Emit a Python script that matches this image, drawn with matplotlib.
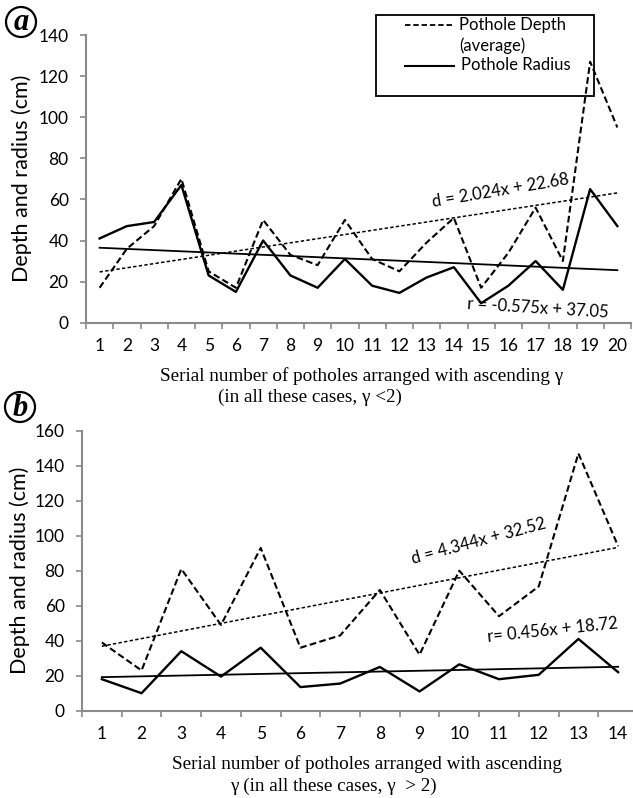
import numpy as np
import matplotlib
matplotlib.use("Agg")
import matplotlib.pyplot as plt
from matplotlib.lines import Line2D
from matplotlib.patches import Rectangle, Ellipse

# panel a: potholes with gamma < 2
pos_a = list(range(1, 21))
depth_a = [17, 36, 47, 70, 25, 17, 50, 33, 28, 50, 31, 25, 39, 51, 17, 34, 56, 30, 127, 95]
radius_a = [41, 47, 49, 67, 23, 15, 40, 23, 17, 31, 18, 14.5, 22, 27, 9.5, 18, 30, 16, 65, 47]
trend_d_a = (2.024, 22.68)
trend_r_a = (-0.575, 37.05)
yticks_a = [0, 20, 40, 60, 80, 100, 120, 140]

# panel b: potholes with gamma > 2
pos_b = list(range(1, 15))
depth_b = [39, 23, 81, 49, 93, 36, 43, 69, 32, 80, 54, 71, 147, 94]
radius_b = [18, 10, 34, 19.5, 36, 13.5, 15.5, 25, 11, 26.5, 18, 20.5, 41, 22]
trend_d_b = (4.344, 32.52)
trend_r_b = (0.456, 18.72)
yticks_b = [0, 20, 40, 60, 80, 100, 120, 140, 160]

W, H = 633, 798
SANS = ["Lato", "DejaVu Sans"]
SERIF = ["Liberation Serif", "DejaVu Serif"]
GREY = "#8a8a8a"

fig = plt.figure(figsize=(W / 100, H / 100), dpi=100)


def px(x, y):
    # pixel position (from top-left) -> figure fraction
    return x / W, 1 - y / H


def setup_axes(left, top, right, bottom, pos, depth, radius, td, tr, yticks):
    x0, y1 = px(left, top)
    x1, y0 = px(right, bottom)
    ax = fig.add_axes([x0, y0, x1 - x0, y1 - y0])
    ax.plot(pos, depth, color="black", lw=1.5, dashes=(3.2, 1.6))
    ax.plot(pos, radius, color="black", lw=1.7)
    xs = np.array([pos[0], pos[-1]])
    ax.plot(xs, td[0] * xs + td[1], color="black", lw=1.1, dashes=(2.2, 1.5))
    ax.plot(xs, tr[0] * xs + tr[1], color="black", lw=1.3)

    ax.set_xlim(0.5, len(pos) + 0.5)
    ax.set_ylim(yticks[0], yticks[-1])
    ax.set_yticks(yticks)
    ax.set_xticks(pos)
    ax.set_xticks(np.arange(0.5, len(pos) + 1), minor=True)
    ax.tick_params(axis="x", which="major", length=0, pad=11, labelsize=12.5)
    ax.tick_params(axis="x", which="minor", length=4, width=1.2, color=GREY)
    ax.tick_params(axis="y", length=4.5, width=1.2, color=GREY, pad=8, labelsize=12.5)
    for lab in ax.get_xticklabels() + ax.get_yticklabels():
        lab.set_fontfamily(SANS)
    for s in ["top", "right"]:
        ax.spines[s].set_visible(False)
    for s in ["left", "bottom"]:
        ax.spines[s].set_color(GREY)
        ax.spines[s].set_linewidth(1.5)
    ax.patch.set_visible(False)
    return ax


ax_a = setup_axes(86, 35, 631, 322.7, pos_a, depth_a, radius_a, trend_d_a, trend_r_a, yticks_a)
ax_b = setup_axes(82, 430.7, 638, 710.7, pos_b, depth_b, radius_b, trend_d_b, trend_r_b, yticks_b)

# trendline equations
ax_a.text(15.7, 64.5, "d = 2.024x + 22.68", rotation=9.5, rotation_mode="anchor",
          ha="center", va="center", fontsize=12, family=SANS)
ax_a.text(17.1, 7.0, "r = -0.575x + 37.05", rotation=-3.5, rotation_mode="anchor",
          ha="center", va="center", fontsize=12, family=SANS)
ax_b.text(10.5, 97, "d = 4.344x + 32.52", rotation=15, rotation_mode="anchor",
          ha="center", va="center", fontsize=12, family=SANS)
ax_b.text(12.35, 46, "r= 0.456x + 18.72", rotation=6, rotation_mode="anchor",
          ha="center", va="center", fontsize=12, family=SANS)

# y labels
fig.text(*px(22, 178), "Depth and radius (cm)", rotation=90, ha="center", va="center",
         fontsize=15.5, family=SANS)
fig.text(*px(20, 570), "Depth and radius (cm)", rotation=90, ha="center", va="center",
         fontsize=15.5, family=SANS)

# x labels (two lines each)
fig.text(*px(362, 376), "Serial number of potholes arranged with ascending \u03b3",
         ha="center", va="center", fontsize=13.8, family=SERIF)
fig.text(*px(310, 397), "(in all these cases, \u03b3 <2)",
         ha="center", va="center", fontsize=13.8, family=SERIF)
fig.text(*px(367, 764), "Serial number of potholes arranged with ascending",
         ha="center", va="center", fontsize=13.8, family=SERIF)
fig.text(*px(333, 786), "\u03b3 (in all these cases, \u03b3  > 2)",
         ha="center", va="center", fontsize=13.8, family=SERIF)

# legend box (panel a)
lx, ly = px(376, 96)
fig.add_artist(Rectangle((lx, ly), 218 / W, 81 / H, transform=fig.transFigure,
                         fill=False, ec="black", lw=1.3))
fig.add_artist(Line2D([405 / W, 454 / W], [1 - 25 / H] * 2, transform=fig.transFigure,
                      color="black", lw=1.3, dashes=(3, 1.6)))
fig.add_artist(Line2D([405 / W, 454 / W], [1 - 66 / H] * 2, transform=fig.transFigure,
                      color="black", lw=1.5))
fig.text(*px(459, 25), "Pothole Depth", ha="left", va="center", fontsize=12, family=SANS)
fig.text(*px(459, 46), "(average)", ha="left", va="center", fontsize=12, family=SANS)
fig.text(*px(461, 65), "Pothole Radius", ha="left", va="center", fontsize=12, family=SANS)

# panel letters in circles
for letter, (cx, cy) in [("a", (21, 22)), ("b", (20, 407))]:
    fx, fy = px(cx, cy)
    fig.add_artist(Ellipse((fx, fy), 30 / W, 30 / H, transform=fig.transFigure,
                           fill=False, ec="black", lw=1.6))
    fig.text(fx, fy - 1 / H, letter, ha="center", va="center", fontsize=22,
             fontweight="bold", fontstyle="italic", family=SERIF)

fig.savefig("out.png", dpi=100)
